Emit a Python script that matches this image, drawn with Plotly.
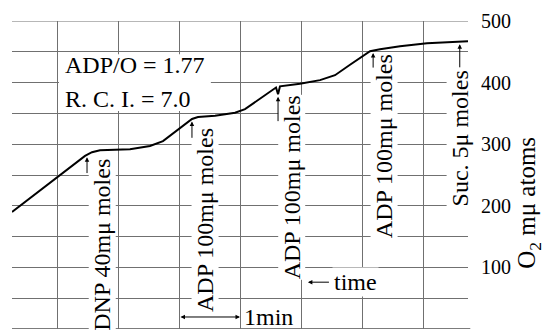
import numpy as np
import plotly.graph_objects as go

# Oxygen uptake trace: time in minutes, O2 consumed in mμ atoms
time_min = [0.00, 0.738, 1.197, 1.311, 1.443, 1.934, 2.262, 2.475, 2.672, 2.951,
            3.049, 3.328, 3.656, 3.820, 4.328, 4.361, 4.393, 4.721, 5.049, 5.295,
            5.541, 5.869, 6.033, 6.361, 6.803, 7.475]
o2_uptake = [190, 247, 281, 287, 290, 292, 297, 305, 320, 341,
             344, 346, 351, 357, 392, 381, 394, 398, 404, 412,
             429, 451, 454, 459, 464, 467]

# Additions to the cuvette and the time (min) at which each was made
event_labels = ["DNP 40mμ moles", "ADP 100mμ moles", "ADP 100mμ moles",
                "ADP 100mμ moles", "Suc. 5μ moles"]
event_time = [1.23, 2.95, 4.361, 5.92, 7.34]

y_tick_values = [0, 50, 100, 150, 200, 250, 300, 350, 400, 450, 500]
y_tick_labels = ["0", "", "100", "", "200", "", "300", "", "400", "", "500"]
summary_lines = ["ADP/O = 1.77", "R. C. I. = 7.0"]

SERIF = "Liberation Serif, DejaVu Serif, serif"
GRID = "#707070"
X_MAX = 7.475
GRID_START = 0.738   # first 1-min grid line

fig = go.Figure(
    go.Scatter(x=time_min, y=o2_uptake, mode="lines",
               line=dict(color="black", width=2), hoverinfo="skip")
)

annotations = []

# labels of the additions, written upwards, with arrows to the trace
label_x = [1.475, 3.164, 4.59, 6.10, 7.34]
label_top = [278, 328, 381, 448, 421]
arrow_len = [28, 29, 42, 26, 40]
for lab, lx, ly in zip(event_labels, label_x, label_top):
    annotations.append(dict(
        x=lx, y=ly, xref="x", yref="y", text=lab, textangle=-90,
        showarrow=False, xanchor="center", yanchor="top",
        bgcolor="white", borderpad=0,
        font=dict(family=SERIF, size=24, color="black")))
for t, alen in zip(event_time, arrow_len):
    tip = float(np.interp(t, time_min, o2_uptake)) - 4
    annotations.append(dict(
        x=t, y=tip, ax=t, ay=tip - alen, xref="x", yref="y",
        axref="x", ayref="y", text="", showarrow=True,
        arrowhead=2, arrowsize=0.9, arrowwidth=1, arrowcolor="black"))

# ADP/O and respiratory control index
for line, yv in zip(summary_lines, [428, 373]):
    annotations.append(dict(
        x=0.83, y=yv, xref="x", yref="y", text=line,
        showarrow=False, xanchor="left", yanchor="middle",
        font=dict(family=SERIF, size=24, color="black")))

# 1 min scale bar
annotations.append(dict(
    x=GRID_START + 3, y=19.5, ax=GRID_START + 2, ay=19.5, xref="x", yref="y",
    axref="x", ayref="y", text="", showarrow=True, arrowside="end+start",
    arrowhead=2, arrowsize=0.9, arrowwidth=1, arrowcolor="black"))
annotations.append(dict(
    x=GRID_START + 3.03, y=19.5, xref="x", yref="y", text="1min",
    showarrow=False, xanchor="left", yanchor="middle",
    font=dict(family=SERIF, size=24, color="black")))

# time direction
annotations.append(dict(
    x=4.85, y=76, ax=5.22, ay=76, xref="x", yref="y", axref="x", ayref="y",
    text="", showarrow=True, arrowhead=2, arrowsize=0.9, arrowwidth=1,
    arrowcolor="black"))
annotations.append(dict(
    x=5.24, y=76, xref="x", yref="y", text="time", showarrow=False,
    xanchor="left", yanchor="middle", bgcolor="white",
    font=dict(family=SERIF, size=24, color="black")))

# axis title on the right
annotations.append(dict(
    x=1.134, y=0.41, xref="paper", yref="paper",
    text="O<sub>2</sub> mμ atoms", textangle=-90, showarrow=False,
    xanchor="center", yanchor="middle",
    font=dict(family=SERIF, size=25, color="black")))

shapes = [
    # blank panel behind the ADP/O and R.C.I. values
    dict(type="rect", xref="x", yref="y", x0=0.77, x1=3.26, y0=354, y1=446,
         fillcolor="white", line=dict(width=0), layer="between"),
    # top and bottom frame rules of the grid
    dict(type="line", xref="paper", yref="y", x0=0, x1=1, y0=500, y1=500,
         line=dict(color=GRID, width=1), layer="between"),
    dict(type="line", xref="paper", yref="y", x0=0, x1=1.005, y0=0, y1=0,
         line=dict(color="#505050", width=1.5), layer="between"),
]

fig.update_layout(
    width=546, height=335,
    margin=dict(l=12, r=78, t=21, b=6),
    paper_bgcolor="white", plot_bgcolor="white",
    showlegend=False,
    annotations=annotations,
    shapes=shapes,
    xaxis=dict(range=[0, X_MAX], tick0=GRID_START, dtick=1, showgrid=True,
               gridcolor=GRID, gridwidth=1, showticklabels=False, ticks="",
               zeroline=False, showline=False, fixedrange=True),
    yaxis=dict(range=[0, 500], side="right", tickvals=y_tick_values,
               ticktext=y_tick_labels, showgrid=True, gridcolor=GRID, gridwidth=1,
               ticks="", ticklabelstandoff=12, zeroline=False, showline=False,
               tickfont=dict(family=SERIF, size=20, color="black"), fixedrange=True),
)

fig.write_html("out.html")
